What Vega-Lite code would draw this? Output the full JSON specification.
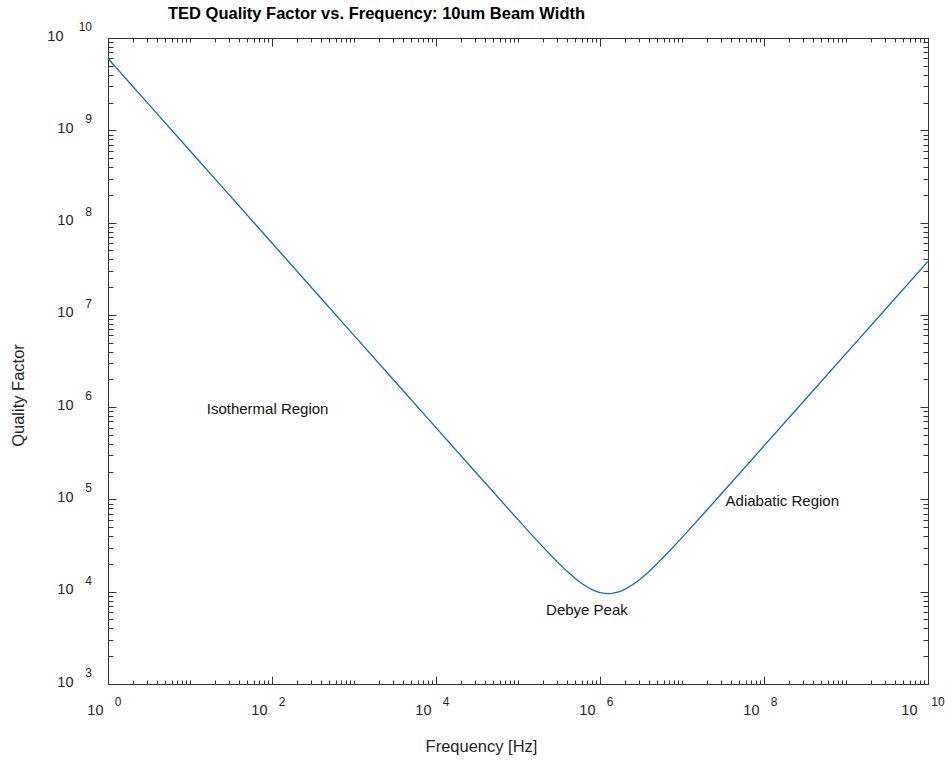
{
  "$schema": "https://vega.github.io/schema/vega-lite/v6.json",
  "width": 820,
  "height": 646,
  "autosize": "none",
  "padding": {"left": 108, "top": 38, "right": 17, "bottom": 79},
  "title": {
    "text": "TED Quality Factor vs. Frequency: 10um Beam Width",
    "anchor": "start",
    "frame": "group",
    "dx": 60,
    "fontSize": 16.5,
    "fontWeight": "bold",
    "font": "Liberation Sans",
    "color": "#000000",
    "baseline": "middle",
    "offset": -9
  },
  "config": {
    "font": "Liberation Sans",
    "view": {"stroke": null},
    "axis": {
      "grid": false,
      "domainColor": "#333333",
      "tickColor": "#333333",
      "labelColor": "#262626",
      "titleColor": "#262626",
      "labelFont": "Liberation Sans",
      "titleFont": "Liberation Sans",
      "labelFontSize": 14.5,
      "labelFontWeight": "normal",
      "titleFontSize": 16.5,
      "titleFontWeight": "normal",
      "labelOverlap": false,
      "labelFlush": false,
      "labelBound": false
    }
  },
  "datasets": {
    "curve": [
      {"f": 1, "q": 6.0e9},
      {"f": 3.162, "q": 1.897e9},
      {"f": 10, "q": 6.0e8},
      {"f": 31.62, "q": 1.897e8},
      {"f": 100, "q": 6.0e7},
      {"f": 316.2, "q": 1.897e7},
      {"f": 1000, "q": 6.0e6},
      {"f": 3162, "q": 1.897e6},
      {"f": 10000, "q": 600038},
      {"f": 31620, "q": 189857},
      {"f": 100000, "q": 60380},
      {"f": 150000, "q": 40570},
      {"f": 200000, "q": 30760},
      {"f": 300000, "q": 21140},
      {"f": 400000, "q": 16520},
      {"f": 500000, "q": 13900},
      {"f": 600000, "q": 12280},
      {"f": 700000, "q": 11231},
      {"f": 800000, "q": 10540},
      {"f": 900000, "q": 10087},
      {"f": 1000000, "q": 9800},
      {"f": 1100000, "q": 9635},
      {"f": 1250000, "q": 9550},
      {"f": 1400000, "q": 9606},
      {"f": 1600000, "q": 9830},
      {"f": 1800000, "q": 10173},
      {"f": 2000000, "q": 10600},
      {"f": 2500000, "q": 11900},
      {"f": 3000000, "q": 13400},
      {"f": 4000000, "q": 16700},
      {"f": 5000000, "q": 20200},
      {"f": 7000000, "q": 27457},
      {"f": 10000000, "q": 38600},
      {"f": 20000000, "q": 76300},
      {"f": 31620000, "q": 120346},
      {"f": 100000000, "q": 380060},
      {"f": 316200000, "q": 1201600},
      {"f": 1000000000, "q": 3800000},
      {"f": 3162000000, "q": 12016000},
      {"f": 10000000000, "q": 38000000}
    ],
    "notes": [
      {"f": 16, "q": 1000000, "label": "Isothermal Region"},
      {"f": 34000000, "q": 100000, "label": "Adiabatic Region"},
      {"f": 220000, "q": 6700, "label": "Debye Peak"}
    ],
    "xexp": [
      {"f": 1, "q": 1000, "e": "0"},
      {"f": 100, "q": 1000, "e": "2"},
      {"f": 10000, "q": 1000, "e": "4"},
      {"f": 1000000, "q": 1000, "e": "6"},
      {"f": 100000000, "q": 1000, "e": "8"},
      {"f": 10000000000, "q": 1000, "e": "10"}
    ],
    "yexp": [
      {"f": 1, "q": 1000, "e": "3"},
      {"f": 1, "q": 10000, "e": "4"},
      {"f": 1, "q": 100000, "e": "5"},
      {"f": 1, "q": 1000000, "e": "6"},
      {"f": 1, "q": 10000000, "e": "7"},
      {"f": 1, "q": 100000000, "e": "8"},
      {"f": 1, "q": 1000000000, "e": "9"},
      {"f": 1, "q": 10000000000, "e": "10"}
    ]
  },
  "layer": [
    {
      "data": {"name": "curve"},
      "mark": {"type": "line", "color": "#0072BD", "strokeWidth": 1.3},
      "encoding": {
        "x": {
          "field": "f",
          "type": "quantitative",
          "scale": {"type": "log", "domain": [1, 10000000000], "nice": false},
          "axis": {
            "orient": "bottom",
            "values": [1,2,3,4,5,6,7,8,9,10,20,30,40,50,60,70,80,90,100,200,300,400,500,600,700,800,900,1000,2000,3000,4000,5000,6000,7000,8000,9000,10000,20000,30000,40000,50000,60000,70000,80000,90000,100000,200000,300000,400000,500000,600000,700000,800000,900000,1000000,2000000,3000000,4000000,5000000,6000000,7000000,8000000,9000000,10000000,20000000,30000000,40000000,50000000,60000000,70000000,80000000,90000000,100000000,200000000,300000000,400000000,500000000,600000000,700000000,800000000,900000000,1000000000,2000000000,3000000000,4000000000,5000000000,6000000000,7000000000,8000000000,9000000000,10000000000],
            "labelExpr": "indexof([1,100,10000,1000000,100000000,10000000000], datum.value) >= 0 ? '10' : ''",
            "tickSize": {"condition": {"test": "indexof([1,100,10000,1000000,100000000,10000000000], datum.value) >= 0", "value": -8}, "value": -4},
            "labelPadding": 27,
            "labelAlign": "right",
            "labelBaseline": "top",
            "labelOffset": {"condition": {"test": "datum.value == 10000000000", "value": -11}, "value": -5},
            "title": "Frequency [Hz]",
            "titleX": 373,
            "titleY": 62,
            "titleBaseline": "middle",
            "titleAlign": "center"
          }
        },
        "y": {
          "field": "q",
          "type": "quantitative",
          "scale": {"type": "log", "domain": [1000, 10000000000], "nice": false},
          "axis": {
            "orient": "left",
            "values": [1000,2000,3000,4000,5000,6000,7000,8000,9000,10000,20000,30000,40000,50000,60000,70000,80000,90000,100000,200000,300000,400000,500000,600000,700000,800000,900000,1000000,2000000,3000000,4000000,5000000,6000000,7000000,8000000,9000000,10000000,20000000,30000000,40000000,50000000,60000000,70000000,80000000,90000000,100000000,200000000,300000000,400000000,500000000,600000000,700000000,800000000,900000000,1000000000,2000000000,3000000000,4000000000,5000000000,6000000000,7000000000,8000000000,9000000000,10000000000],
            "labelExpr": "indexof([1000,10000,100000,1000000,10000000,100000000,1000000000,10000000000], datum.value) >= 0 ? '10' : ''",
            "tickSize": {"condition": {"test": "indexof([1000,10000,100000,1000000,10000000,100000000,1000000000,10000000000], datum.value) >= 0", "value": -8}, "value": -5},
            "labelPadding": {"condition": {"test": "datum.value == 10000000000", "value": 53}, "value": 43},
            "labelAlign": "right",
            "labelBaseline": "middle",
            "labelOffset": -2,
            "title": "Quality Factor",
            "titleX": -90,
            "titleY": 357,
            "titleAngle": -90,
            "titleBaseline": "middle",
            "titleAlign": "center"
          }
        }
      }
    },
    {
      "data": {"name": "notes"},
      "mark": {"type": "text", "align": "left", "baseline": "middle", "fontSize": 15, "font": "Liberation Sans", "color": "#111111", "dy": 2},
      "encoding": {
        "x": {
          "field": "f",
          "type": "quantitative",
          "scale": {"type": "log", "domain": [1, 10000000000], "nice": false},
          "axis": {
            "orient": "top",
            "labels": false,
            "title": null,
            "values": [1,2,3,4,5,6,7,8,9,10,20,30,40,50,60,70,80,90,100,200,300,400,500,600,700,800,900,1000,2000,3000,4000,5000,6000,7000,8000,9000,10000,20000,30000,40000,50000,60000,70000,80000,90000,100000,200000,300000,400000,500000,600000,700000,800000,900000,1000000,2000000,3000000,4000000,5000000,6000000,7000000,8000000,9000000,10000000,20000000,30000000,40000000,50000000,60000000,70000000,80000000,90000000,100000000,200000000,300000000,400000000,500000000,600000000,700000000,800000000,900000000,1000000000,2000000000,3000000000,4000000000,5000000000,6000000000,7000000000,8000000000,9000000000,10000000000],
            "tickSize": {"condition": {"test": "indexof([1,100,10000,1000000,100000000,10000000000], datum.value) >= 0", "value": -8}, "value": -4}
          }
        },
        "y": {
          "field": "q",
          "type": "quantitative",
          "scale": {"type": "log", "domain": [1000, 10000000000], "nice": false},
          "axis": {
            "orient": "right",
            "labels": false,
            "title": null,
            "values": [1000,2000,3000,4000,5000,6000,7000,8000,9000,10000,20000,30000,40000,50000,60000,70000,80000,90000,100000,200000,300000,400000,500000,600000,700000,800000,900000,1000000,2000000,3000000,4000000,5000000,6000000,7000000,8000000,9000000,10000000,20000000,30000000,40000000,50000000,60000000,70000000,80000000,90000000,100000000,200000000,300000000,400000000,500000000,600000000,700000000,800000000,900000000,1000000000,2000000000,3000000000,4000000000,5000000000,6000000000,7000000000,8000000000,9000000000,10000000000],
            "tickSize": {"condition": {"test": "indexof([1000,10000,100000,1000000,10000000,100000000,1000000000,10000000000], datum.value) >= 0", "value": -8}, "value": -5}
          }
        },
        "text": {"field": "label"}
      }
    },
    {
      "data": {"name": "xexp"},
      "mark": {"type": "text", "align": "center", "baseline": "middle", "fontSize": 12, "font": "Liberation Sans", "color": "#262626", "dx": 10, "dy": 18},
      "encoding": {
        "x": {"field": "f", "type": "quantitative", "scale": {"type": "log", "domain": [1, 10000000000], "nice": false}, "axis": null},
        "y": {"field": "q", "type": "quantitative", "scale": {"type": "log", "domain": [1000, 10000000000], "nice": false}, "axis": null},
        "text": {"field": "e"}
      }
    },
    {
      "data": {"name": "yexp"},
      "mark": {"type": "text", "align": "right", "baseline": "middle", "fontSize": 12, "font": "Liberation Sans", "color": "#262626", "dx": -16, "dy": -11},
      "encoding": {
        "x": {"field": "f", "type": "quantitative", "scale": {"type": "log", "domain": [1, 10000000000], "nice": false}, "axis": null},
        "y": {"field": "q", "type": "quantitative", "scale": {"type": "log", "domain": [1000, 10000000000], "nice": false}, "axis": null},
        "text": {"field": "e"}
      }
    }
  ],
  "resolve": {"axis": {"x": "independent", "y": "independent"}}
}
